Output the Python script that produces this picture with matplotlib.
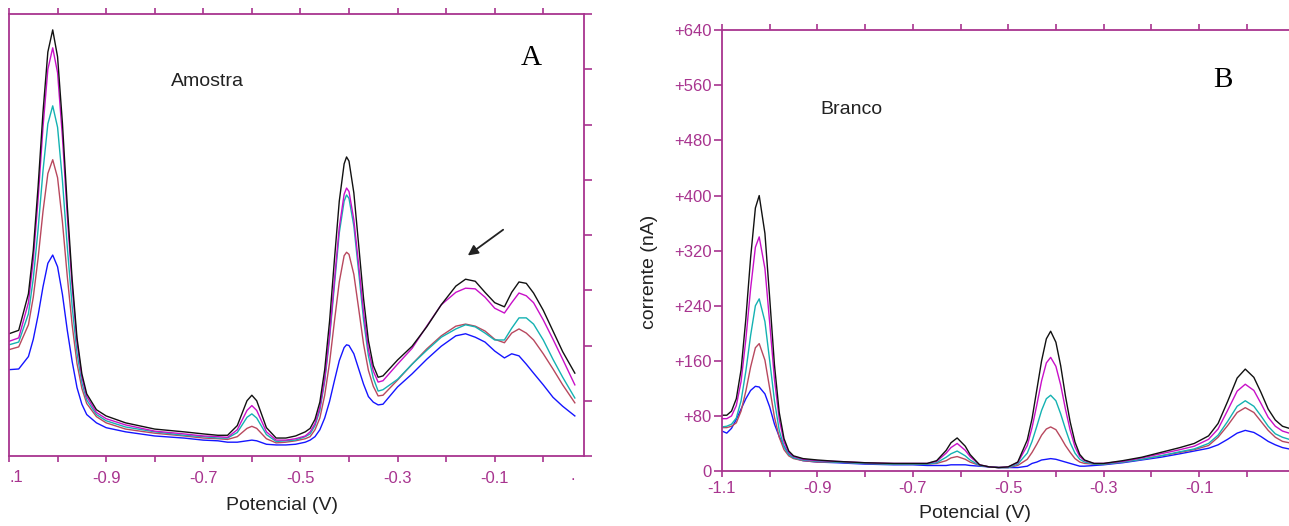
import matplotlib
matplotlib.use("Agg")
import matplotlib.pyplot as plt
import numpy as np

plt.rcParams['font.family'] = ['Liberation Sans', 'DejaVu Sans']
plt.rcParams['axes.unicode_minus'] = False

# ---------------- Panel A (Amostra) ----------------
potA = [-1.10, -1.08, -1.06, -1.05, -1.04, -1.03, -1.02, -1.01, -1.00, -0.99, -0.98, -0.97, -0.96, -0.95, -0.94, -0.92,
        -0.90, -0.86, -0.80, -0.74, -0.70, -0.67, -0.65, -0.63, -0.61, -0.60, -0.59, -0.57, -0.55, -0.53, -0.51, -0.49,
        -0.48, -0.47, -0.46, -0.45, -0.44, -0.43, -0.42, -0.41, -0.405, -0.40, -0.39, -0.38, -0.37, -0.36, -0.35, -0.34, -0.33,
        -0.30, -0.27, -0.24, -0.21, -0.18, -0.16, -0.14, -0.12, -0.10, -0.08, -0.065, -0.05, -0.035, -0.02, 0.00, 0.02, 0.04, 0.065]

A_black = [177, 182, 235, 298, 391, 498, 585, 617, 578, 482, 362, 256, 171, 119, 90, 67,
           58, 48, 39, 35, 32, 30, 30, 44, 80, 88, 80, 41, 26, 26, 29, 35,
           40, 53, 78, 125, 195, 284, 369, 423, 433, 427, 381, 305, 228, 167, 131, 114, 116,
           139, 159, 187, 219, 246, 256, 253, 237, 222, 216, 237, 252, 250, 236, 211, 181, 151, 120]
A_magenta = [166, 171, 222, 284, 373, 476, 560, 591, 555, 462, 348, 246, 165, 114, 86, 63,
             54, 45, 36, 32, 29, 28, 27, 38, 66, 73, 66, 35, 23, 23, 25, 29,
             35, 47, 70, 112, 174, 254, 331, 379, 388, 383, 342, 276, 208, 154, 123, 107, 109,
             133, 156, 188, 219, 237, 243, 242, 230, 214, 207, 222, 236, 232, 222, 197, 169, 140, 103]
A_cyan = [161, 165, 206, 257, 329, 413, 481, 507, 476, 399, 303, 217, 149, 106, 81, 60,
          51, 42, 35, 30, 28, 26, 26, 34, 56, 61, 55, 31, 21, 22, 23, 28,
          32, 44, 66, 108, 170, 247, 323, 369, 378, 373, 333, 266, 197, 145, 113, 94, 96,
          111, 133, 153, 172, 184, 190, 187, 178, 168, 168, 185, 200, 200, 191, 168, 140, 114, 84]
A_red = [154, 158, 190, 230, 287, 354, 409, 429, 403, 339, 260, 190, 134, 98, 76, 57,
         48, 39, 33, 29, 26, 25, 24, 28, 40, 43, 40, 25, 19, 20, 22, 25,
         28, 38, 55, 88, 135, 195, 252, 290, 295, 292, 263, 213, 162, 124, 101, 87, 88,
         110, 133, 155, 174, 188, 191, 188, 181, 169, 164, 178, 184, 178, 168, 148, 126, 103, 77]
A_blue = [125, 126, 144, 169, 204, 245, 279, 291, 274, 234, 182, 137, 99, 75, 60, 48,
          41, 35, 29, 26, 23, 22, 20, 20, 22, 23, 22, 17, 16, 16, 17, 20,
          23, 28, 38, 55, 79, 109, 138, 157, 161, 160, 148, 126, 104, 86, 78, 74, 75,
          100, 119, 140, 159, 174, 177, 172, 165, 152, 142, 148, 145, 133, 120, 103, 85, 72, 58]

# ---------------- Panel B (Branco) ----------------
potB = [-1.10, -1.09, -1.08, -1.07, -1.06, -1.05, -1.04, -1.03, -1.022, -1.01, -1.00, -0.99, -0.98, -0.97, -0.96, -0.95, -0.93, -0.90,
        -0.86, -0.80, -0.74, -0.70, -0.67, -0.65, -0.63, -0.62, -0.607, -0.59, -0.58, -0.56, -0.54, -0.52, -0.50, -0.48, -0.46,
        -0.45, -0.44, -0.43, -0.42, -0.411, -0.40, -0.39, -0.38, -0.37, -0.36, -0.35, -0.34, -0.32,
        -0.30, -0.26, -0.22, -0.18, -0.14, -0.11, -0.08, -0.06, -0.04, -0.02, -0.003, 0.015, 0.03, 0.045, 0.06, 0.075, 0.089]

B_black = [81, 81, 87, 105, 147, 221, 310, 382, 400, 345, 251, 154, 85, 47, 29, 22, 18, 16,
           14, 12, 11, 11, 11, 15, 30, 41, 48, 36, 24, 9, 6, 5, 6, 13, 45,
           76, 118, 160, 192, 203, 187, 153, 109, 71, 42, 24, 16, 11,
           11, 15, 20, 27, 34, 40, 51, 69, 101, 135, 148, 136, 114, 90, 74, 65, 62]
B_magenta = [76, 76, 80, 95, 130, 191, 265, 325, 340, 294, 215, 133, 75, 42, 27, 21, 17, 15,
             14, 12, 11, 11, 11, 14, 26, 34, 40, 30, 21, 9, 6, 5, 6, 12, 37,
             63, 96, 131, 157, 165, 152, 125, 90, 59, 35, 21, 15, 11,
             11, 14, 19, 25, 31, 36, 46, 61, 88, 116, 126, 117, 98, 78, 65, 58, 55]
B_cyan = [64, 65, 68, 77, 102, 145, 197, 240, 250, 217, 160, 102, 59, 35, 24, 19, 16, 14,
          13, 11, 10, 10, 10, 12, 20, 25, 29, 22, 16, 8, 6, 5, 5, 10, 26,
          43, 65, 88, 105, 110, 102, 83, 61, 41, 26, 17, 13, 10,
          10, 13, 17, 22, 28, 32, 40, 52, 72, 94, 102, 94, 80, 65, 54, 49, 46]
B_red = [63, 63, 65, 70, 87, 116, 151, 179, 185, 161, 120, 78, 49, 31, 22, 18, 15, 13,
         13, 11, 10, 10, 10, 11, 15, 19, 21, 17, 13, 8, 6, 5, 5, 8, 17,
         27, 39, 52, 61, 64, 60, 49, 37, 27, 18, 13, 11, 10,
         10, 13, 17, 22, 27, 31, 37, 49, 66, 85, 92, 85, 72, 59, 49, 43, 41]
B_blue = [58, 55, 62, 75, 90, 105, 117, 123, 122, 112, 93, 68, 50, 36, 25, 19, 15, 13,
          12, 10, 9, 9, 8, 8, 8, 9, 9, 9, 8, 7, 6, 5, 5, 5, 7,
          11, 13, 16, 17, 18, 17, 15, 13, 11, 9, 7, 7, 8,
          9, 12, 16, 20, 25, 29, 33, 38, 46, 55, 59, 56, 50, 43, 38, 34, 32]

x_ticks = [-1.1, -1.0, -0.9, -0.8, -0.7, -0.6, -0.5, -0.4, -0.3, -0.2, -0.1, 0.0]
x_labels_A = ['', '', '-0.9', '', '-0.7', '', '-0.5', '', '-0.3', '', '-0.1', '']
x_labels_B = ['-1.1', '', '-0.9', '', '-0.7', '', '-0.5', '', '-0.3', '', '-0.1', '']
y_ticks = [0, 80, 160, 240, 320, 400, 480, 560, 640]
y_labels_B = ['0', '+80', '+160', '+240', '+320', '+400', '+480', '+560', '+640']

colors = ['#1515FF', '#B8485E', '#14B2B2', '#C810C8', '#111111']

AXC = '#A8348F'
W, H = 1289, 526
fig = plt.figure(figsize=(W / 100, H / 100), dpi=100)


def frac(l, r, b, t):
    return [l / W, 1 - b / H, (r - l) / W, (b - t) / H]


def px(x, y):
    return x / W, 1 - y / H


# ---- Panel A ----
axA = fig.add_axes(frac(9, 584, 456, 14))
for ys, c in zip([A_blue, A_red, A_cyan, A_magenta, A_black], colors):
    axA.plot(potA, ys, color=c, lw=1.0)
axA.set_xlim(-1.1, -1.1 + 575 / 485.7)
axA.set_ylim(0, 640)
axA.set_xticks(x_ticks, x_labels_A)
axA.set_yticks(y_ticks, [''] * len(y_ticks))
axA.tick_params(axis='x', direction='out', top=True, bottom=True, length=4.5, width=1.2,
                color=AXC, labelcolor=AXC, labelsize=12, pad=6)
axA.tick_params(axis='y', direction='out', left=False, right=True, labelleft=False,
                length=6, width=1.2, color=AXC)
for s in axA.spines.values():
    s.set_color(AXC)
    s.set_linewidth(1.3)
axA.annotate('', xy=(-0.160, 288), xytext=(-0.078, 330),
             arrowprops=dict(arrowstyle='-|>', color='#222222', lw=1.3, mutation_scale=15))

fig.text(*px(16, 477), '.1', color=AXC, fontsize=12, ha='center', va='center')
fig.text(*px(573, 476), '.', color=AXC, fontsize=12, ha='center', va='center')
fig.text(*px(207, 81), 'Amostra', fontsize=14, ha='center', va='center', color='#222222')
fig.text(*px(531, 58), 'A', fontsize=21, ha='center', va='center',
         family=['Liberation Serif', 'DejaVu Serif'])
fig.text(*px(282, 505), 'Potencial (V)', fontsize=14, ha='center', va='center', color='#222222')

# ---- Panel B ----
axB = fig.add_axes(frac(722, 1289, 471, 30.3))
for ys, c in zip([B_blue, B_red, B_cyan, B_magenta, B_black], colors):
    axB.plot(potB, ys, color=c, lw=1.0)
axB.set_xlim(-1.1, -1.1 + 567 / 477)
axB.set_ylim(0, 640)
axB.set_xticks(x_ticks, x_labels_B)
axB.set_yticks(y_ticks, y_labels_B)
axB.tick_params(axis='x', direction='out', top=True, bottom=True, length=4.5, width=1.2,
                color=AXC, labelcolor=AXC, labelsize=12, pad=3)
axB.tick_params(axis='y', direction='out', left=True, right=False, length=6, width=1.2,
                color=AXC, labelcolor=AXC, labelsize=12, pad=1.5)
axB.spines['right'].set_visible(False)
for k in ['left', 'top', 'bottom']:
    axB.spines[k].set_color(AXC)
    axB.spines[k].set_linewidth(1.3)

fig.text(*px(851, 110), 'Branco', fontsize=14, ha='center', va='center', color='#222222')
fig.text(*px(1223, 80), 'B', fontsize=21, ha='center', va='center',
         family=['Liberation Serif', 'DejaVu Serif'])
fig.text(*px(975, 514), 'Potencial (V)', fontsize=14, ha='center', va='center', color='#222222')
fig.text(*px(650, 272), 'corrente (nA)', fontsize=14, ha='center', va='center',
         rotation=90, color='#222222')

fig.savefig('out.png', dpi=100, facecolor='white')
